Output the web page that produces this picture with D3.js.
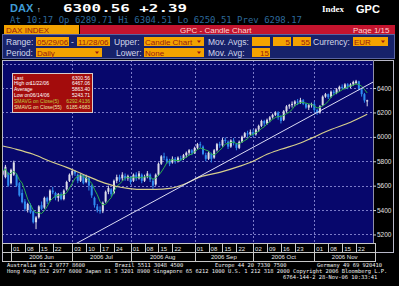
<!DOCTYPE html>
<html>
<head>
<meta charset="utf-8">
<script src="https://cdn.jsdelivr.net/npm/d3@7"></script>
<style>
  body { margin: 0; background: #000; }
  svg { display: block; }
  text { font-family: "Liberation Sans", Arial, sans-serif; }
</style>
</head>
<body>
<script>
// trading days 05/29/06 - 11/28/06
const days = ["05/29","05/30","05/31",
  "06/01","06/02","06/05","06/06","06/07","06/08","06/09","06/12","06/13","06/14","06/15","06/16","06/19","06/20","06/21","06/22","06/23","06/26","06/27","06/28","06/29","06/30",
  "07/03","07/04","07/05","07/06","07/07","07/10","07/11","07/12","07/13","07/14","07/17","07/18","07/19","07/20","07/21","07/24","07/25","07/26","07/27","07/28","07/31",
  "08/01","08/02","08/03","08/04","08/07","08/08","08/09","08/10","08/11","08/14","08/15","08/16","08/17","08/18","08/21","08/22","08/23","08/24","08/25","08/28","08/29","08/30","08/31",
  "09/01","09/04","09/05","09/06","09/07","09/08","09/11","09/12","09/13","09/14","09/15","09/18","09/19","09/20","09/21","09/22","09/25","09/26","09/27","09/28","09/29",
  "10/02","10/03","10/04","10/05","10/06","10/09","10/10","10/11","10/12","10/13","10/16","10/17","10/18","10/19","10/20","10/23","10/24","10/25","10/26","10/27","10/30","10/31",
  "11/01","11/02","11/03","11/06","11/07","11/08","11/09","11/10","11/13","11/14","11/15","11/16","11/17","11/20","11/21","11/22","11/23","11/24","11/27","11/28"];

const opens = [5690,5670,5700,5620,5690,5690,5620,5540,5470,5400,5440,5390,5300,5340,5440,5420,5500,5480,5560,5540,5500,5530,5490,5570,5640,
  5690,5720,5690,5640,5690,5630,5660,5600,5500,5430,5400,5390,5470,5550,5570,5540,5640,5670,5660,5680,5660,
  5670,5640,5690,5660,5690,5640,5680,5690,5640,5610,5690,5780,5840,5820,5800,5790,5820,5800,5825,5820,5850,5870,5890,
  5870,5910,5940,5920,5850,5820,5860,5830,5890,5940,5930,5975,5960,5920,5970,5940,5910,5960,6000,6030,6020,
  6040,6020,6060,6090,6130,6110,6140,6160,6180,6200,6160,6140,6210,6250,6260,6270,6290,6280,6300,6270,6240,6260,
  6270,6220,6200,6260,6330,6350,6330,6370,6360,6390,6410,6400,6430,6410,6430,6440,6455,6390,6350,6289.71];

const highs = [5730,5770,5710,5740,5805,5700,5630,5570,5490,5460,5455,5395,5350,5440,5470,5510,5510,5570,5590,5550,5540,5545,5570,5640,5700,
  5730,5728,5700,5700,5695,5690,5670,5610,5510,5450,5430,5470,5560,5600,5580,5650,5690,5690,5710,5700,5690,
  5680,5700,5710,5720,5700,5690,5720,5700,5660,5700,5790,5850,5870,5840,5820,5840,5835,5840,5845,5860,5880,5900,5900,
  5920,5950,5960,5930,5870,5880,5870,5900,5950,5960,5990,5995,5970,5980,5990,5950,5970,6010,6040,6050,6060,
  6060,6070,6100,6140,6140,6150,6170,6190,6210,6210,6180,6220,6260,6270,6290,6300,6310,6320,6310,6280,6270,6280,
  6290,6230,6260,6340,6360,6355,6380,6385,6400,6420,6430,6440,6440,6440,6460,6467.06,6460,6400,6360,6304.51];

const lows = [5680,5660,5590,5610,5680,5590,5510,5455,5390,5380,5370,5290,5243.71,5330,5400,5410,5450,5470,5530,5480,5470,5480,5480,5560,5630,
  5680,5680,5620,5630,5610,5620,5560,5500,5420,5380,5370,5375,5460,5530,5510,5530,5620,5630,5640,5640,5640,
  5610,5630,5640,5650,5620,5630,5660,5630,5570,5600,5680,5770,5810,5780,5760,5780,5780,5790,5800,5810,5830,5850,5850,
  5860,5900,5910,5850,5800,5810,5790,5820,5880,5910,5920,5950,5900,5910,5930,5890,5900,5950,5990,6000,6010,
  6000,6010,6040,6080,6090,6100,6120,6150,6170,6140,6110,6130,6200,6230,6240,6250,6260,6270,6260,6230,6220,6240,
  6200,6180,6190,6255,6320,6310,6320,6340,6350,6370,6390,6390,6390,6400,6420,6430,6380,6330,6280,6250.51];

const closes = [5720,5755,5600,5730,5790,5600,5520,5465,5410,5450,5380,5300,5340,5430,5410,5500,5470,5560,5545,5500,5530,5490,5560,5630,5690,
  5720,5700,5640,5690,5620,5670,5600,5520,5440,5400,5390,5460,5550,5580,5530,5640,5670,5650,5690,5660,5680,
  5630,5690,5660,5700,5640,5670,5700,5650,5600,5690,5780,5840,5830,5800,5780,5820,5800,5830,5815,5850,5870,5890,5870,
  5910,5940,5930,5860,5820,5870,5820,5890,5940,5930,5975,5970,5920,5970,5950,5910,5960,6000,6030,6020,6040,
  6020,6060,6090,6130,6110,6140,6160,6180,6200,6160,6130,6210,6250,6260,6270,6290,6280,6300,6270,6240,6260,6268,
  6220,6200,6250,6330,6350,6325,6370,6360,6390,6410,6400,6430,6410,6430,6450,6455,6395,6350,6298.17,6300.56];

// 55 day average
const sma55Days = ["05/29","06/05","06/13","06/21","06/29","07/07","07/17","07/25","07/31","08/04","08/14","08/21","08/28",
  "09/05","09/14","09/25","10/02","10/09","10/16","10/25","10/31","11/09","11/20","11/28"];
const sma55Vals = [5925,5898,5857,5800,5750,5692,5635,5593,5577,5569,5569,5577,5610,
  5672,5709,5758,5800,5857,5898,5950,5990,6060,6120,6185];

// trend line anchors
const trendDays = ["07/03","11/28"];
const trendVals = [5108,6423];

const yTicks = [5200,5400,5600,5800,6000,6200,6400];
const gridVals = [5200,5400,5600,5800,6000,6200,6400,6600];
const dayTicks = ["06/01","06/08","06/15","06/22","07/03","07/10","07/17","07/24","08/01","08/08","08/15","08/22",
  "09/01","09/08","09/15","09/22","10/02","10/09","10/16","10/23","11/01","11/08","11/15","11/22"];
const monthStarts = ["06/01","07/03","08/01","09/01","10/02","11/01"];
const monthLabels = ["2006 Jun","2006 Jul","2006 Aug","2006 Sep","2006 Oct","2006 Nov"];

const svg = d3.select('body').append('svg').attr('width', 399).attr('height', 286);
svg.append('rect').attr('width', 399).attr('height', 286).attr('fill', '#000');

// ---- header
svg.append('text').attr('x', 10).attr('y', 12).text('DAX')
  .attr('font-size', 11).attr('font-weight', 'bold').attr('fill', '#3f9ad4');
svg.append('text').attr('x', 37).attr('y', 11.5).text('↑').attr('font-size', 7).attr('fill', '#fff');
svg.append('text').attr('x', 63).attr('y', 12).text('6300.56 +2.39')
  .style('font-family', '"DejaVu Sans Mono", monospace').attr('font-weight', 'bold')
  .attr('font-size', 11).attr('fill', '#fff')
  .attr('textLength', 124).attr('lengthAdjust', 'spacingAndGlyphs');
svg.append('text').attr('x', 10).attr('y', 22.5).text('At 10:17 Op 6289.71  Hi 6304.51  Lo 6250.51  Prev 6298.17')
  .style('font-family', '"DejaVu Sans Mono", monospace').attr('font-size', 8).attr('fill', '#2d6a9c')
  .attr('textLength', 292).attr('lengthAdjust', 'spacingAndGlyphs');
svg.append('text').attr('x', 322).attr('y', 12).text('Index')
  .style('font-family', '"Liberation Serif", serif').attr('font-weight', 'bold').attr('font-size', 9).attr('fill', '#fff');
svg.append('text').attr('x', 356).attr('y', 12.5).text('GPC')
  .attr('font-weight', 'bold').attr('font-size', 11).attr('fill', '#fff');

// orange / red title bar
svg.append('rect').attr('x', 4).attr('y', 25).attr('width', 75).attr('height', 9).attr('fill', '#f2a200');
svg.append('rect').attr('x', 80).attr('y', 25).attr('width', 315).attr('height', 9).attr('fill', '#c4142e');
svg.append('text').attr('x', 6).attr('y', 32.5).text('DAX INDEX').attr('font-size', 8).attr('fill', '#9a1a10');
svg.append('text').attr('x', 180).attr('y', 32.5).text('GPC - Candle Chart').attr('font-size', 8).attr('fill', '#ffd4d4');
svg.append('text').attr('x', 353).attr('y', 32.5).text('Page 1/15').attr('font-size', 8).attr('fill', '#ffd4d4');

// ---- control panel
svg.append('rect').attr('x', 2.5).attr('y', 34.5).attr('width', 392).attr('height', 24)
  .attr('fill', '#17226a').attr('stroke', '#5a64a0');

const labels = [
  ['Range:', 6, 45], ['-', 71, 45], ['Upper:', 114, 45], ['Mov. Avgs:', 208, 45], ['Currency:', 313, 45],
  ['Period:', 6, 56], ['Lower:', 116, 56], ['Mov. Avg:', 208, 56]
];
svg.selectAll('text.lab').data(labels).join('text').attr('class', 'lab')
  .attr('x', d => d[1]).attr('y', d => d[2]).text(d => d[0])
  .attr('font-size', 8.5).attr('fill', '#d4d8ea');

// boxes: text, x, y, width, align, dropdown
const boxes = [
  ['05/29/06', 36, 37, 33, 'start', false], ['11/28/06', 77, 37, 33, 'start', false],
  ['Candle Chart', 144, 37, 60, 'start', true], ['', 252, 37, 18, 'end', false],
  ['5', 273, 37, 18, 'end', false], ['55', 293, 37, 18, 'end', false], ['EUR', 353, 37, 35, 'start', true],
  ['Daily', 36, 48, 66, 'start', true], ['None', 144, 48, 60, 'start', true], ['15', 252, 48, 18, 'end', false]
];
const bx = svg.selectAll('g.box').data(boxes).join('g').attr('class', 'box');
bx.append('rect').attr('x', d => d[1]).attr('y', d => d[2]).attr('width', d => d[3]).attr('height', 9).attr('fill', '#f4a300');
bx.append('text').attr('x', d => d[4] === 'end' ? d[1] + d[3] - 1 : d[1] + 1).attr('y', d => d[2] + 7.5)
  .attr('text-anchor', d => d[4]).text(d => d[0]).attr('font-size', 8).attr('fill', '#9a1a10');
bx.filter(d => d[5]).append('path')
  .attr('d', d => `M${d[1] + d[3] - 7},${d[2] + 3.5}l4,0l-2,2.5z`).attr('fill', '#9a1a10');

// ---- plot
const x = d3.scalePoint().domain(days).range([2.65, 367.2]);
const y = d3.scaleLinear().domain([5130, 6630]).range([243, 60]);

svg.append('rect').attr('x', 2).attr('y', 60).attr('width', 371).attr('height', 183).attr('fill', '#07076c');
svg.append('defs').append('clipPath').attr('id', 'clip')
  .append('rect').attr('x', 2).attr('y', 60).attr('width', 371).attr('height', 183);

const plot = svg.append('g').attr('clip-path', 'url(#clip)');

// grid
plot.selectAll('line.hg').data(gridVals).join('line').attr('class', 'hg')
  .attr('x1', 2).attr('x2', 373).attr('y1', d => Math.round(y(d)) + 0.5).attr('y2', d => Math.round(y(d)) + 0.5)
  .attr('stroke', '#7a7ac8').attr('stroke-dasharray', '2,2');
plot.selectAll('line.vg').data(monthStarts.slice(1)).join('line').attr('class', 'vg')
  .attr('x1', d => Math.round(x(d)) + 0.5).attr('x2', d => Math.round(x(d)) + 0.5).attr('y1', 60).attr('y2', 243)
  .attr('stroke', '#7a7ac8').attr('stroke-dasharray', '2,2');

// candles
const candles = days.map((d, i) => ({ d, o: opens[i], h: highs[i], l: lows[i], c: closes[i] }));
const col = k => k.c >= k.o ? '#dcdce8' : '#2f8cf0';
plot.selectAll('line.wick').data(candles).join('line').attr('class', 'wick')
  .attr('x1', k => x(k.d)).attr('x2', k => x(k.d)).attr('y1', k => y(k.h)).attr('y2', k => y(k.l))
  .attr('stroke', col).attr('stroke-width', 1);
plot.selectAll('rect.body').data(candles).join('rect').attr('class', 'body')
  .attr('x', k => x(k.d) - 1).attr('width', 2)
  .attr('y', k => y(Math.max(k.o, k.c))).attr('height', k => Math.max(1, Math.abs(y(k.o) - y(k.c))))
  .attr('fill', col);

// moving averages
const sma5 = closes.map((c, i) => d3.mean(closes.slice(Math.max(0, i - 4), i + 1)));
plot.append('path').datum(days)
  .attr('d', d3.line().x(d => x(d)).y((d, i) => y(sma5[i])))
  .attr('fill', 'none').attr('stroke', '#2bb04a').attr('stroke-width', 1);

plot.append('path').datum(sma55Days)
  .attr('d', d3.line().curve(d3.curveMonotoneX).x(d => x(d)).y((d, i) => y(sma55Vals[i])))
  .attr('fill', 'none').attr('stroke', '#d6ce8c').attr('stroke-width', 1.2);

// trend line, carried on to the right edge
const tx0 = x(trendDays[0]), ty0 = y(trendVals[0]), tx1 = x(trendDays[1]), ty1 = y(trendVals[1]);
const slope = (ty1 - ty0) / (tx1 - tx0);
plot.append('line').attr('x1', tx0).attr('y1', ty0).attr('x2', 373).attr('y2', ty0 + slope * (373 - tx0))
  .attr('stroke', '#dcdcf4').attr('stroke-width', 1);

// info box
const info = svg.append('g');
info.append('rect').attr('x', 12.5).attr('y', 73.5).attr('width', 80).attr('height', 39)
  .attr('fill', '#a30c0c').attr('stroke', '#d8cccc');
const infoRows = [
  ['Last', '', '6300.56', '#fff'], ['High on', '11/22/06', '6467.06', '#fff'],
  ['Average', '', '5863.40', '#fff'], ['Low on', '06/14/06', '5243.71', '#fff'],
  ['SMAVG on Close(5)', '', '6292.4136', '#bccc3c'], ['SMAVG on Close(55)', '', '6185.4683', '#f2e6ac']
];
infoRows.forEach((r, i) => {
  const yy = 79.5 + i * 5.8;
  info.append('text').attr('x', 14).attr('y', yy).text(r[0]).attr('font-size', 5).attr('fill', r[3]);
  if (r[1]) info.append('text').attr('x', 30).attr('y', yy).text(r[1]).attr('font-size', 5).attr('fill', r[3]);
  info.append('text').attr('x', 90).attr('y', yy).attr('text-anchor', 'end').text(r[2]).attr('font-size', 5).attr('fill', r[3]);
});

// frames
svg.append('line').attr('x1', 2).attr('x2', 394).attr('y1', 60.5).attr('y2', 60.5).attr('stroke', '#b8b8c8');
svg.append('line').attr('x1', 2.5).attr('x2', 2.5).attr('y1', 60).attr('y2', 261).attr('stroke', '#b8b8c8');
svg.append('line').attr('x1', 373.5).attr('x2', 373.5).attr('y1', 60).attr('y2', 243).attr('stroke', '#9090a8');
svg.append('line').attr('x1', 393.5).attr('x2', 393.5).attr('y1', 60).attr('y2', 252.5).attr('stroke', '#b8b8c8');
svg.append('line').attr('x1', 375).attr('x2', 394).attr('y1', 252.5).attr('y2', 252.5).attr('stroke', '#b8b8c8');

// y axis
const yAxis = svg.append('g').attr('transform', 'translate(373,0)')
  .call(d3.axisRight(y).tickValues(yTicks).tickSize(3).tickPadding(1).tickFormat(d3.format('d')));
yAxis.select('.domain').remove();
yAxis.selectAll('line').attr('stroke', '#d0d0d0');
yAxis.selectAll('text').attr('fill', '#e0e0e0').attr('font-size', 6.5)
  .style('font-family', '"Liberation Sans", Arial, sans-serif');

// date axis
const ax = svg.append('g');
[243.5, 252.5, 261.5].forEach(v => ax.append('line').attr('x1', 2).attr('x2', 375).attr('y1', v).attr('y2', v).attr('stroke', '#c8c8c8'));
ax.append('line').attr('x1', 375.5).attr('x2', 375.5).attr('y1', 243).attr('y2', 262).attr('stroke', '#c8c8c8');
ax.selectAll('line.ds').data(dayTicks).join('line').attr('class', 'ds')
  .attr('x1', d => Math.round(x(d)) + 0.5).attr('x2', d => Math.round(x(d)) + 0.5).attr('y1', 243).attr('y2', 252)
  .attr('stroke', '#c8c8c8');
ax.selectAll('line.ms').data(monthStarts).join('line').attr('class', 'ms')
  .attr('x1', d => Math.round(x(d)) + 0.5).attr('x2', d => Math.round(x(d)) + 0.5).attr('y1', 243).attr('y2', 261)
  .attr('stroke', '#c8c8c8');
ax.selectAll('text.dl').data(dayTicks).join('text').attr('class', 'dl')
  .attr('x', d => x(d) + 2).attr('y', 250.5).text(d => d.slice(3))
  .attr('font-size', 6).attr('fill', '#e8e8e8');
ax.selectAll('text.ml').data(monthStarts).join('text').attr('class', 'ml')
  .attr('x', (d, i) => ((x(d)) + (i < monthStarts.length - 1 ? x(monthStarts[i + 1]) : 375)) / 2)
  .attr('y', 259).attr('text-anchor', 'middle').text((d, i) => monthLabels[i])
  .attr('font-size', 6).attr('fill', '#e8e8e8');

// footer
const foot = [
  ['Australia 61 2 9777 8600', 7, 267], ['Brazil 5511 3048 4500', 115, 267],
  ['Europe 44 20 7330 7500', 215, 267], ['Germany 49 69 920410', 317, 267],
  ['Hong Kong 852 2977 6000 Japan 81 3 3201 8900 Singapore 65 6212 1000 U.S. 1 212 318 2000 Copyright 2006 Bloomberg L.P.', 7, 273],
  ['6764-144-2 28-Nov-06 10:33:41', 283, 278.5]
];
svg.selectAll('text.ft').data(foot).join('text').attr('class', 'ft')
  .attr('x', d => d[1]).attr('y', d => d[2]).text(d => d[0])
  .style('font-family', '"DejaVu Sans Mono", monospace').attr('font-size', 5.5).attr('fill', '#f0f0f0')
  .attr('textLength', d => d[0].length * 3.25).attr('lengthAdjust', 'spacingAndGlyphs');
</script>
</body>
</html>
